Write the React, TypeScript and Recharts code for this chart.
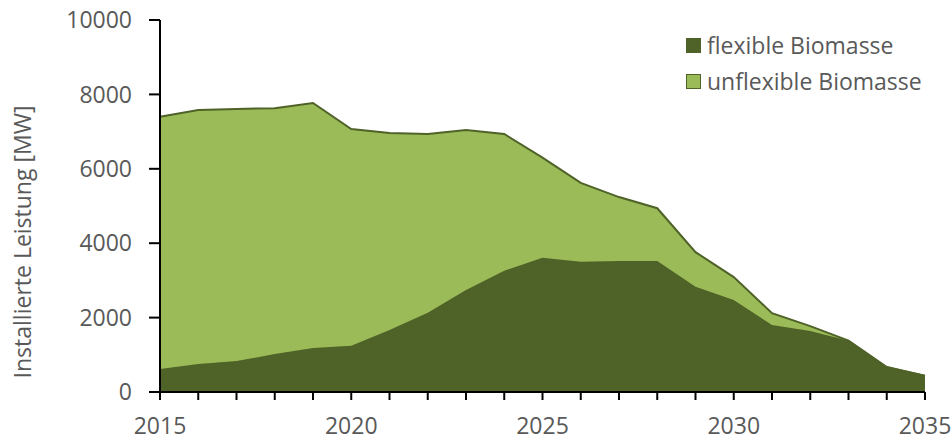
import { Area, AreaChart, XAxis, YAxis } from 'recharts';

const years = [2015, 2016, 2017, 2018, 2019, 2020, 2021, 2022, 2023, 2024, 2025, 2026, 2027, 2028, 2029, 2030, 2031, 2032, 2033, 2034, 2035];
const flexible = [620, 750, 830, 1020, 1180, 1240, 1670, 2130, 2740, 3260, 3610, 3500, 3520, 3520, 2830, 2470, 1800, 1640, 1380, 670, 440];
const unflexible = [6780, 6830, 6780, 6610, 6590, 5830, 5290, 4805, 4300, 3675, 2690, 2120, 1720, 1420, 930, 620, 320, 130, 0, 0, 0];
const yTicks = [0, 2000, 4000, 6000, 8000, 10000];
const seriesNames = ['flexible Biomasse', 'unflexible Biomasse'];

const data = years.map((year, i) => ({ year, flexible: flexible[i], unflexible: unflexible[i] }));

const DARK = '#4F6228';
const LIGHT = '#9BBB59';
const TEXT = '#595959';
const FONT = '"Open Sans", "Noto Sans", sans-serif';
const FS = 23;

function LegendBox() {
  const fills = [DARK, LIGHT];
  return (
    <div
      style={{
        position: 'absolute',
        left: 686,
        top: 27,
        fontFamily: FONT,
        fontSize: FS,
        color: TEXT,
        lineHeight: 1,
      }}
    >
      {seriesNames.map((name, i) => (
        <div key={name} style={{ display: 'flex', alignItems: 'center', height: 36 }}>
          <span
            style={{
              display: 'inline-block',
              width: 13,
              height: 13,
              background: fills[i],
              border: `1.5px solid ${DARK}`,
              marginRight: 6,
            }}
          />
          <span>{name}</span>
        </div>
      ))}
    </div>
  );
}

export default function App() {
  return (
    <div style={{ position: 'absolute', left: 0, top: 0, width: 952, height: 441, background: '#fff' }}>
      <AreaChart width={952} height={441} data={data} margin={{ top: 20, right: 27, bottom: 0, left: 0 }}>
        <XAxis
          dataKey="year"
          type="number"
          domain={[2015, 2035]}
          ticks={years}
          interval={0}
          tickFormatter={(v: number) => (v % 5 === 0 ? String(v) : '')}
          height={49}
          stroke="#000"
          strokeWidth={2}
          tickSize={8}
          tickMargin={18}
          tick={{ fill: TEXT, fontSize: FS, fontFamily: FONT }}
        />
        <YAxis
          type="number"
          domain={[0, 10000]}
          ticks={yTicks}
          width={160}
          stroke="#000"
          strokeWidth={2}
          tickSize={11}
          tickMargin={17}
          tick={{ fill: TEXT, fontSize: FS, fontFamily: FONT }}
          label={{
            content: () => (
              <text
                x={0}
                y={0}
                transform="translate(31,242) rotate(-90)"
                textAnchor="middle"
                fill={TEXT}
                fontSize={FS}
                fontFamily={FONT}
              >
                Installierte Leistung [MW]
              </text>
            ),
          }}
        />
        <Area
          type="linear"
          dataKey="flexible"
          name={seriesNames[0]}
          stackId="1"
          fill={DARK}
          fillOpacity={1}
          stroke={DARK}
          strokeWidth={1.5}
          isAnimationActive={false}
        />
        <Area
          type="linear"
          dataKey="unflexible"
          name={seriesNames[1]}
          stackId="1"
          fill={LIGHT}
          fillOpacity={1}
          stroke={DARK}
          strokeWidth={2}
          isAnimationActive={false}
        />
      </AreaChart>
      <LegendBox />
    </div>
  );
}
